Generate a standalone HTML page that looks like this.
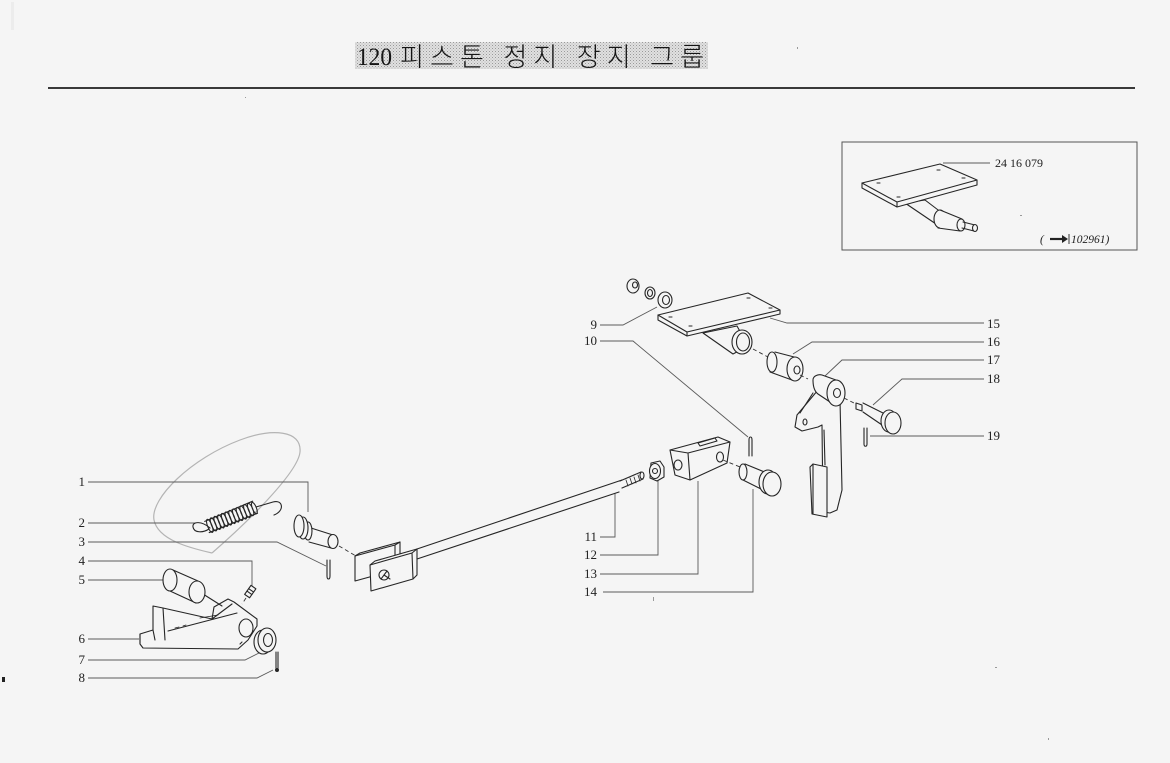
<!DOCTYPE html>
<html><head><meta charset="utf-8">
<style>
html,body{margin:0;padding:0;background:#f5f5f5;}
svg{display:block;}
.p{fill:none;stroke:#262626;stroke-width:1.1;stroke-linejoin:round;stroke-linecap:round;}
.f{fill:#f5f5f5;stroke:#262626;stroke-width:1.1;stroke-linejoin:round;}
.l{fill:none;stroke:#5a5a5a;stroke-width:0.9;}
.d{fill:none;stroke:#333;stroke-width:0.9;stroke-dasharray:4 3;}
.t{font-family:"Liberation Serif",serif;font-size:13px;fill:#222;}
</style></head><body>
<svg width="1170" height="763" viewBox="0 0 1170 763" xmlns="http://www.w3.org/2000/svg">
<defs>
<pattern id="dots" width="3" height="3" patternUnits="userSpaceOnUse">
<rect width="3" height="3" fill="#e0e0e0"/><rect width="1" height="1" fill="#9a9a9a"/><rect x="1.5" y="1.5" width="1" height="1" fill="#b5b5b5"/>
</pattern>
</defs>
<rect width="1170" height="763" fill="#f5f5f5"/>
<rect x="11" y="2" width="3" height="28" fill="#ececec"/>
<rect x="2" y="677" width="3" height="5" fill="#222"/>

<!-- title -->
<rect x="355" y="42" width="353" height="27" fill="url(#dots)"/>
<text x="357" y="65" font-family="'Liberation Serif',serif" font-size="25" fill="#151515" textLength="35" lengthAdjust="spacingAndGlyphs">120</text>
<text x="400" y="66" font-family="'Liberation Sans','Noto Sans CJK KR',sans-serif" font-size="26" font-weight="300" fill="#151515" textLength="304" lengthAdjust="spacing">피스톤 정지 장지 그룹</text>
<line x1="48" y1="88" x2="1135" y2="88" stroke="#1e1e1e" stroke-width="1.8"/>

<!-- inset -->
<rect x="842" y="142" width="295" height="108" fill="none" stroke="#555" stroke-width="1"/>
<path class="f" d="M905,203 L936,224 L946,216 L925,200 Z"/>
<ellipse class="f" cx="940" cy="219" rx="6" ry="9"/>
<path class="f" d="M940,210 L962,218 L963,228 L940,228 Z" style="stroke:none"/>
<path class="p" d="M940,210 L962,219 M938,228 L960,231"/>
<ellipse class="f" cx="961" cy="225" rx="4" ry="6"/>
<path class="p" d="M963,222 L975,225 M962,228 L974,231"/>
<ellipse class="f" cx="975" cy="228" rx="2.5" ry="3.5"/>
<path class="f" d="M862,183 L940,164 L977,180 L977,185 L897,207 L862,188 Z"/>
<path class="p" d="M862,183 L897,202 L977,180 M897,202 L897,207"/>
<path class="p" d="M877,183 l3,0 M897,197 l3,0 M937,170 l3,0 M962,178 l3,0"/>
<line class="l" x1="943" y1="163" x2="990" y2="163"/>
<text x="995" y="167" font-family="'Liberation Serif',serif" font-size="12" fill="#222">24 16 079</text>
<text x="1040" y="243" font-family="'Liberation Serif',serif" font-size="11.5" font-style="italic" fill="#222">(</text>
<path d="M1050,239 L1064,239" stroke="#222" stroke-width="2.2"/>
<path d="M1062,235 L1068,239 L1062,243 Z" fill="#222"/>
<line x1="1069" y1="234" x2="1069" y2="244" stroke="#222" stroke-width="0.9"/>
<text x="1071" y="243" font-family="'Liberation Serif',serif" font-size="11.5" font-style="italic" fill="#222">102961)</text>

<!-- pencil loop -->
<path d="M212,553 C190,548 158,540 154,520 C150,498 192,458 240,440 C272,428 302,430 300,452 C298,472 250,520 212,553" fill="none" stroke="#b4b4b4" stroke-width="1.2"/>

<!-- leader lines -->
<path class="l" d="M88,482 H308 V512"/>
<path class="l" d="M88,523 H195"/>
<path class="l" d="M88,542 H277 L326,566"/>
<path class="l" d="M88,561 H252 V586"/>
<path class="l" d="M88,580 H165"/>
<path class="l" d="M88,639 H139"/>
<path class="l" d="M88,660 H245 L261,652"/>
<path class="l" d="M88,678 H257 L273,670"/>
<path class="l" d="M600,325 H623 L657,307"/>
<path class="l" d="M600,341 H633 L748,437"/>
<path class="l" d="M600,537 H615 V493"/>
<path class="l" d="M600,555 H658 V479"/>
<path class="l" d="M600,574 H698 V481"/>
<path class="l" d="M603,592 H753 V489"/>
<path class="l" d="M770,318 L787,323 H984"/>
<path class="l" d="M984,342 H812 L793,354"/>
<path class="l" d="M984,360 H842 L825,376"/>
<path class="l" d="M984,379 H902 L873,405"/>
<path class="l" d="M984,436 H870"/>

<!-- labels -->
<g class="t" text-anchor="end">
<text x="85" y="486">1</text><text x="85" y="527">2</text><text x="85" y="546">3</text>
<text x="85" y="565">4</text><text x="85" y="584">5</text><text x="85" y="643">6</text>
<text x="85" y="664">7</text><text x="85" y="682">8</text>
<text x="597" y="329">9</text><text x="597" y="345">10</text>
<text x="597" y="541">11</text><text x="597" y="559">12</text>
<text x="597" y="578">13</text><text x="597" y="596">14</text>
</g>
<g class="t">
<text x="987" y="328">15</text><text x="987" y="346">16</text><text x="987" y="364">17</text>
<text x="987" y="383">18</text><text x="987" y="440">19</text>
</g>

<!-- spring 2 -->
<path class="p" d="M210,528 C202,521 192,521 193,527 C194,533 203,533 209,529"/>
<g transform="translate(207,527) rotate(-21.8)">
<path class="p" d="M0,-6 L52,-7 M0,6 L52,6"/>
<g class="p">
<ellipse cx="3" cy="0" rx="2.2" ry="7"/><ellipse cx="7" cy="0" rx="2.2" ry="7"/><ellipse cx="11" cy="0" rx="2.2" ry="7"/>
<ellipse cx="15" cy="0" rx="2.2" ry="7"/><ellipse cx="19" cy="0" rx="2.2" ry="7"/><ellipse cx="23" cy="0" rx="2.2" ry="7"/>
<ellipse cx="27" cy="0" rx="2.2" ry="7"/><ellipse cx="31" cy="0" rx="2.2" ry="7"/><ellipse cx="35" cy="0" rx="2.2" ry="7"/>
<ellipse cx="39" cy="0" rx="2.2" ry="7"/><ellipse cx="43" cy="0" rx="2.2" ry="7"/><ellipse cx="47" cy="0" rx="2.2" ry="6.5"/>
<ellipse cx="51" cy="0" rx="2" ry="6"/>
</g>
</g>
<path class="p" d="M256,507 L273,502 C283,499 285,511 274,515"/>

<!-- part 1 -->
<path class="f" d="M312,530 L334,535 L334,548 L310,542 Z" style="stroke:none"/>
<path class="p" d="M311,528 L333,535 M309,542 L331,548"/>
<ellipse class="f" cx="333" cy="541.5" rx="5" ry="7"/>
<ellipse class="f" cx="308" cy="531" rx="4" ry="9"/>
<ellipse class="f" cx="303" cy="528" rx="5" ry="11"/>
<ellipse class="f" cx="299" cy="526" rx="5" ry="11"/>
<line class="d" x1="339" y1="546" x2="356" y2="556"/>
<!-- cotter 3 -->
<path class="p" d="M327,560 L327,576 M330,560 L330,576 M327,576 C327,580 330,580 330,576"/>

<!-- clevis left -->
<path class="f" d="M355,556 L360,553 L400,542 L400,566 L395,570 L355,581 Z"/>
<path class="p" d="M355,556 L395,545 L400,542 M395,545 L395,570"/>
<path class="f" d="M370,565 L375,561 L417,549 L417,575 L413,579 L371,591 Z"/>
<path class="p" d="M370,565 L412,553 L417,549 M412,553 L413,579"/>
<circle class="p" cx="384" cy="575" r="5"/>
<path class="p" d="M381,579 L387,571 M384,575 L390,579"/>

<!-- rod 11 -->
<path class="p" d="M417,549 L622,480 M417,559 L619,492"/>
<path class="p" d="M620,481 L641,472 M622,488 L643,479"/>
<ellipse class="f" cx="642" cy="475.5" rx="2" ry="3.5"/>
<path class="p" d="M626,480 l2,6 M630,478 l2,6 M634,477 l2,6 M638,475 l2,6" style="stroke-width:0.8"/>

<!-- nut 12 -->
<path class="f" d="M651,463 L660,461 L664,467 L664,477 L657,481 L650,478 Z"/>
<ellipse class="f" cx="655" cy="471" rx="5.5" ry="7.5"/>
<circle class="p" cx="655" cy="471" r="2.5"/>

<!-- block 13 -->
<path class="f" d="M670,450 L718,437 L730,442 L727,463 L690,480 L675,475 Z"/>
<path class="p" d="M670,450 L688,453 L730,442 M688,453 L690,480"/>
<path class="p" d="M698,443 L715,438 L717,441 L700,446 Z"/>
<ellipse class="p" cx="678" cy="465" rx="4" ry="5"/>
<ellipse class="p" cx="720" cy="457" rx="3.5" ry="5"/>
<line class="d" x1="723" y1="460" x2="740" y2="467"/>

<!-- pin 14 -->
<path class="f" d="M745,464 L767,473 L763,490 L743,480 Z" style="stroke:none"/>
<path class="p" d="M745,464 L767,473 M743,480 L763,490"/>
<ellipse class="f" cx="743" cy="472" rx="4" ry="8"/>
<ellipse class="f" cx="768" cy="482" rx="9" ry="12"/>
<ellipse class="f" cx="772" cy="484" rx="9" ry="12"/>
<!-- cotter 10 -->
<path class="p" d="M749,440 L749,456 M752,440 L752,456 M749,440 C749,436 752,436 752,440"/>

<!-- washers 9 -->
<ellipse class="f" cx="633" cy="286" rx="6" ry="7"/>
<ellipse class="p" cx="635" cy="285" rx="2.5" ry="3"/>
<ellipse class="p" cx="650" cy="293" rx="5" ry="6"/>
<ellipse class="p" cx="650" cy="293" rx="2.5" ry="3.5"/>
<ellipse class="f" cx="665" cy="300" rx="7" ry="8"/>
<ellipse class="p" cx="666" cy="300" rx="3.5" ry="4.5"/>

<!-- bracket 15 -->
<path class="f" d="M703,333 L733,354 L748,346 L737,326 Z"/>
<ellipse class="f" cx="742" cy="342" rx="10" ry="12"/>
<ellipse class="p" cx="743" cy="342" rx="6.5" ry="9"/>
<path class="f" d="M658,315 L748,293 L780,310 L780,314 L687,336 L658,320 Z"/>
<path class="p" d="M658,315 L687,332 L780,310 M687,332 L687,336"/>
<path class="p" d="M669,317 l3,0 M689,326 l3,0 M747,298 l3,0 M769,308 l3,0"/>
<line class="d" x1="753" y1="349" x2="768" y2="357"/>

<!-- bushing 16 -->
<path class="f" d="M775,352 L798,358 L793,380 L770,372 Z" style="stroke:none"/>
<path class="p" d="M775,352 L798,358 M770,372 L792,380"/>
<ellipse class="f" cx="772" cy="362" rx="5" ry="10"/>
<ellipse class="f" cx="795" cy="369" rx="8" ry="12"/>
<ellipse class="p" cx="797" cy="370" rx="3" ry="4"/>
<line class="d" x1="800" y1="375" x2="808" y2="379"/>

<!-- lever 17 -->
<path class="f" d="M818,390 L797,415 L795,427 L802,431 L818,427 L822,425 L823,512 L830,513 L837,510 L842,490 L840,400 Z"/>
<path class="p" d="M813,393 L800,413 M824,430 L825,465"/>
<ellipse class="p" cx="805" cy="422" rx="2" ry="3"/>
<path class="f" d="M813,380 C813,376 818,374 822,375 L836,380 L836,406 L818,394 C814,391 813,386 813,380 Z"/>
<ellipse class="f" cx="836" cy="393" rx="9" ry="13"/>
<ellipse class="p" cx="837" cy="393" rx="3.5" ry="4.5"/>
<path class="f" d="M810,467 L813,464 L827,467 L827,517 L812,514 Z"/>
<path class="p" d="M813,464 L813,514"/>
<line class="d" x1="844" y1="398" x2="856" y2="404"/>

<!-- pin 18 -->
<path class="f" d="M863,403 L887,415 L885,427 L863,412 Z" style="stroke:none"/>
<path class="p" d="M863,403 L887,415 M863,412 L885,427"/>
<path class="f" d="M856,403 L862,405 L862,411 L856,409 Z"/>
<ellipse class="f" cx="889" cy="421" rx="8" ry="11"/>
<ellipse class="f" cx="893" cy="423" rx="8" ry="11"/>
<!-- cotter 19 -->
<path class="p" d="M864,428 L864,444 M867,428 L867,444 M864,444 C864,447 867,447 867,444"/>

<!-- lever 6 -->
<path class="f" d="M140,634 L153,630 L153,606 L163,608 L212,619 L214,607 L228,599 L234,602 L257,619 L257,626 L248,640 L238,649 L143,648 L140,644 Z"/>
<path class="p" d="M163,608 L165,640 M153,630 L155,640 M140,634 L140,644 M168,631 L237,613 M212,619 L232,604"/>
<path class="p" d="M175,628 l4,-1 M183,626 l3,-1 M200,618 l18,-3" style="stroke-width:0.8"/>
<ellipse class="f" cx="246" cy="628" rx="7" ry="9"/>
<path class="p" d="M240,644 l2,-2"/>

<!-- bushing 5 -->
<path class="f" d="M173,570 L198,581 L196,602 L170,591 Z" style="stroke:none"/>
<path class="p" d="M173,570 L198,581 M170,591 L196,603"/>
<line class="p" x1="203" y1="594" x2="222" y2="606"/>
<ellipse class="f" cx="170" cy="580" rx="7" ry="11"/>
<ellipse class="f" cx="197" cy="592" rx="8" ry="11"/>

<!-- part 4 -->
<g transform="translate(250,592) rotate(35)">
<rect class="f" x="-3" y="-6" width="6" height="11"/>
<path class="p" d="M-3,-2 h6 M-3,1 h6"/>
</g>
<line class="d" x1="246" y1="598" x2="242" y2="604"/>

<!-- washer 7 -->
<ellipse class="f" cx="263" cy="642" rx="9" ry="12"/>
<ellipse class="f" cx="267" cy="640" rx="9" ry="12"/>
<ellipse class="p" cx="268" cy="640" rx="4.5" ry="6.5"/>

<!-- pin 8 -->
<path class="p" d="M276,652 L276,668 M278,652 L278,668"/>
<circle cx="277" cy="670" r="2" fill="#262626"/>

<!-- stray specks -->
<g fill="#999">
<rect x="797" y="47" width="1" height="2"/><rect x="1020" y="215" width="2" height="1"/>
<rect x="245" y="97" width="1" height="1"/><rect x="995" y="667" width="2" height="1"/>
<rect x="1048" y="738" width="1" height="2"/><rect x="653" y="597" width="1" height="4"/>
</g>
</svg>
</body></html>
